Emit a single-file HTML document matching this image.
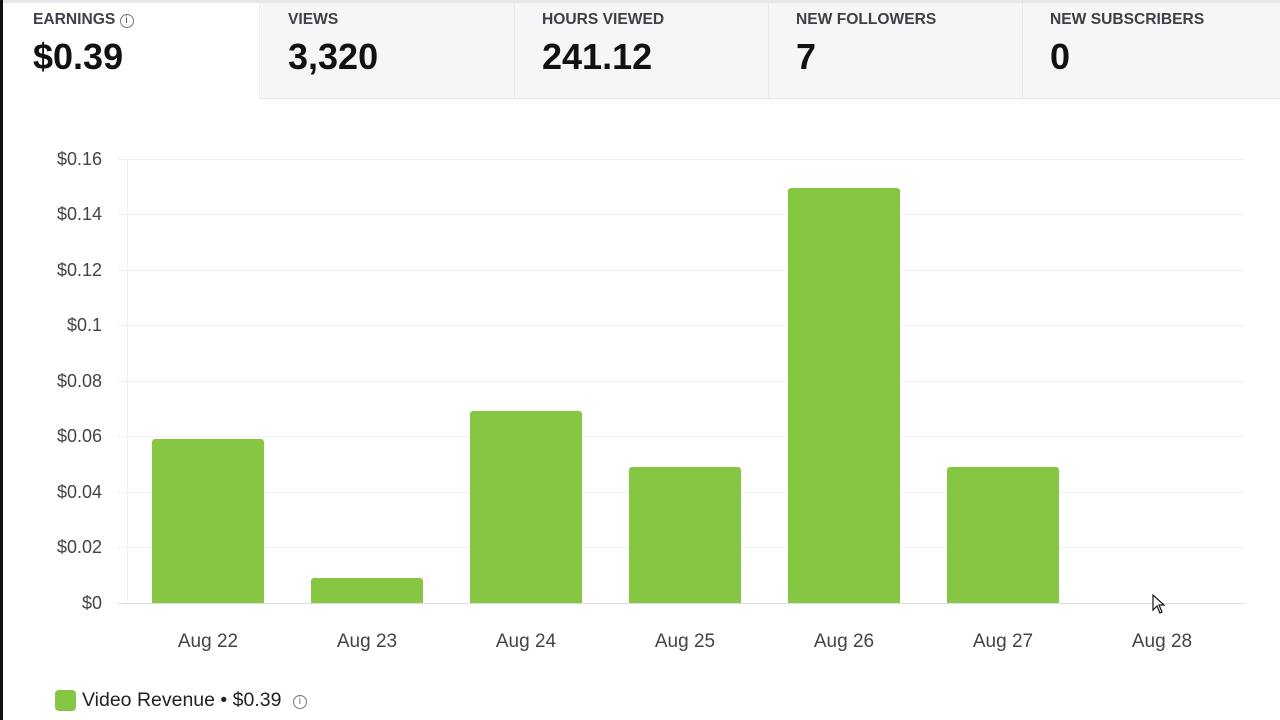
<!DOCTYPE html>
<html><head><style>
body{margin:0;width:1280px;height:720px;background:#fff;font-family:"Liberation Sans",sans-serif;position:relative;overflow:hidden}
.lb{position:absolute;left:0;top:0;width:3px;height:720px;background:#111}
.tb{position:absolute;left:3px;top:0;width:1277px;height:3px;background:#e6e7ea}
.tab{position:absolute;top:3px;height:96px;background:#f5f6f8;border-left:1px solid #e8e9ec;border-bottom:1px solid #e8e9ec;box-sizing:border-box}
.t{position:absolute;font-size:15.6px;font-weight:bold;color:#3d4046;top:11px}
.v{position:absolute;font-size:36px;font-weight:bold;color:#111;top:36px}
.yl{position:absolute;font-size:18px;color:#444;right:1178px;text-align:right}
.xl{position:absolute;font-size:19px;color:#444;width:140px;text-align:center;top:631px}
.g{position:absolute;left:118px;width:1126px;height:1px;background:#eef0f2}
.bar{position:absolute;width:112px;background:#85c643;border-radius:3px 3px 0 0}
</style></head><body>
<div class="lb"></div><div class="tb"></div>
<div class="tab" style="left:259px;width:1021px;border-left:1px solid #ececee"></div>
<div class="tab" style="left:514px;width:254px;background:transparent"></div>
<div class="tab" style="left:768px;width:254px;background:transparent"></div>
<div class="tab" style="left:1022px;width:258px;background:transparent"></div>
<div class="t" style="left:33px">EARNINGS <span style="font-weight:normal;border:1px solid #777;border-radius:50%;display:inline-block;width:12px;height:12px;line-height:12px;text-align:center;font-size:10px;vertical-align:1px">i</span></div>
<div class="v" style="left:33px">$0.39</div>
<div class="t" style="left:288px">VIEWS</div><div class="v" style="left:288px">3,320</div>
<div class="t" style="left:542px">HOURS VIEWED</div><div class="v" style="left:542px">241.12</div>
<div class="t" style="left:796px">NEW FOLLOWERS</div><div class="v" style="left:796px">7</div>
<div class="t" style="left:1050px">NEW SUBSCRIBERS</div><div class="v" style="left:1050px">0</div>

<div class="g" style="top:159px"></div><div class="g" style="top:214px"></div><div class="g" style="top:270px"></div><div class="g" style="top:325px"></div><div class="g" style="top:381px"></div><div class="g" style="top:436px"></div><div class="g" style="top:492px"></div><div class="g" style="top:547px"></div>
<div class="g" style="top:603px;background:#dcdee2"></div>
<div style="position:absolute;left:127px;top:159px;width:1px;height:444px;background:#eef0f2"></div>
<div class="yl" style="top:149px">$0.16</div><div class="yl" style="top:204px">$0.14</div><div class="yl" style="top:260px">$0.12</div><div class="yl" style="top:315px">$0.1</div><div class="yl" style="top:371px">$0.08</div><div class="yl" style="top:426px">$0.06</div><div class="yl" style="top:482px">$0.04</div><div class="yl" style="top:537px">$0.02</div><div class="yl" style="top:593px">$0</div>

<div class="bar" style="left:152px;top:439px;height:164px"></div>
<div class="bar" style="left:311px;top:578px;height:25px"></div>
<div class="bar" style="left:470px;top:411px;height:192px"></div>
<div class="bar" style="left:629px;top:467px;height:136px"></div>
<div class="bar" style="left:788px;top:188px;height:415px"></div>
<div class="bar" style="left:947px;top:467px;height:136px"></div>

<div class="xl" style="left:138px">Aug 22</div><div class="xl" style="left:297px">Aug 23</div><div class="xl" style="left:456px">Aug 24</div><div class="xl" style="left:615px">Aug 25</div><div class="xl" style="left:774px">Aug 26</div><div class="xl" style="left:933px">Aug 27</div><div class="xl" style="left:1092px">Aug 28</div>

<div style="position:absolute;left:55px;top:690px;width:21px;height:21px;background:#85c643;border-radius:4px"></div>
<div style="position:absolute;left:82px;top:689px;font-size:19.5px;color:#222">Video Revenue • $0.39 <span style="display:inline-block;width:12px;height:12px;border:1px solid #777;border-radius:50%;font-size:10px;line-height:12px;text-align:center;color:#666;vertical-align:2px;margin-left:6px">i</span></div>
<svg style="position:absolute;left:1152px;top:594px" width="16" height="22"><path d="M1 1 L1 16 L5 12 L8 19 L10 18 L7 11 L12 11 Z" fill="#fff" stroke="#111" stroke-width="1.2"/></svg>
</body></html>
